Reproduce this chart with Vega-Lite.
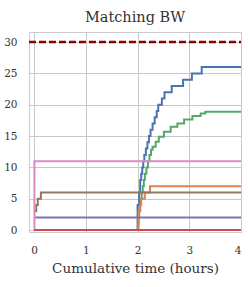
{
  "$schema": "https://vega.github.io/schema/vega-lite/v6.json",
  "width": 212,
  "height": 200,
  "autosize": "none",
  "padding": {"left": 29, "top": 32, "right": 7, "bottom": 55},
  "background": "white",
  "config": {
    "font": "DejaVu Serif",
    "view": {"stroke": "#cccccc", "strokeWidth": 1},
    "axis": {
      "grid": true,
      "gridColor": "#c8c8c8",
      "gridOpacity": 1,
      "gridWidth": 1,
      "domain": false,
      "tickSize": 0,
      "labelFont": "DejaVu Serif",
      "labelFontSize": 10.5,
      "labelColor": "#333333",
      "labelOverlap": false,
      "titleFont": "DejaVu Serif",
      "titleFontSize": 13.5,
      "titleFontWeight": "normal",
      "titleColor": "#333333"
    },
    "title": {"font": "DejaVu Serif", "fontSize": 14.5, "fontWeight": "normal", "color": "#333333", "offset": 7}
  },
  "title": "Matching BW",
  "datasets": {
    "series": [
      {"s": "blue", "t": 2.0, "v": 0},
      {"s": "blue", "t": 2.0, "v": 4},
      {"s": "blue", "t": 2.03, "v": 6},
      {"s": "blue", "t": 2.05, "v": 8},
      {"s": "blue", "t": 2.07, "v": 9},
      {"s": "blue", "t": 2.09, "v": 10},
      {"s": "blue", "t": 2.11, "v": 11},
      {"s": "blue", "t": 2.13, "v": 12},
      {"s": "blue", "t": 2.16, "v": 13},
      {"s": "blue", "t": 2.19, "v": 14},
      {"s": "blue", "t": 2.22, "v": 15},
      {"s": "blue", "t": 2.25, "v": 16},
      {"s": "blue", "t": 2.29, "v": 17},
      {"s": "blue", "t": 2.33, "v": 18},
      {"s": "blue", "t": 2.37, "v": 19},
      {"s": "blue", "t": 2.40, "v": 20},
      {"s": "blue", "t": 2.47, "v": 21},
      {"s": "blue", "t": 2.52, "v": 22},
      {"s": "blue", "t": 2.66, "v": 23},
      {"s": "blue", "t": 2.88, "v": 24},
      {"s": "blue", "t": 3.05, "v": 25},
      {"s": "blue", "t": 3.24, "v": 26},
      {"s": "blue", "t": 4.0, "v": 26},
      {"s": "green", "t": 2.0, "v": 0},
      {"s": "green", "t": 2.01, "v": 1},
      {"s": "green", "t": 2.02, "v": 2},
      {"s": "green", "t": 2.03, "v": 3},
      {"s": "green", "t": 2.05, "v": 4},
      {"s": "green", "t": 2.06, "v": 5},
      {"s": "green", "t": 2.08, "v": 6},
      {"s": "green", "t": 2.10, "v": 7},
      {"s": "green", "t": 2.12, "v": 8},
      {"s": "green", "t": 2.14, "v": 9},
      {"s": "green", "t": 2.17, "v": 10},
      {"s": "green", "t": 2.20, "v": 11},
      {"s": "green", "t": 2.23, "v": 12},
      {"s": "green", "t": 2.26, "v": 12.8},
      {"s": "green", "t": 2.29, "v": 13.3},
      {"s": "green", "t": 2.35, "v": 14.1},
      {"s": "green", "t": 2.41, "v": 14.9},
      {"s": "green", "t": 2.51, "v": 15.7},
      {"s": "green", "t": 2.64, "v": 16.5},
      {"s": "green", "t": 2.77, "v": 17.0},
      {"s": "green", "t": 2.90, "v": 17.65},
      {"s": "green", "t": 3.06, "v": 18.2},
      {"s": "green", "t": 3.22, "v": 18.6},
      {"s": "green", "t": 3.31, "v": 18.87},
      {"s": "green", "t": 4.0, "v": 18.87},
      {"s": "orange", "t": 0.0, "v": 0},
      {"s": "orange", "t": 2.02, "v": 3},
      {"s": "orange", "t": 2.05, "v": 4},
      {"s": "orange", "t": 2.07, "v": 5},
      {"s": "orange", "t": 2.14, "v": 6},
      {"s": "orange", "t": 2.24, "v": 7},
      {"s": "orange", "t": 4.0, "v": 7},
      {"s": "brown", "t": 0.0, "v": 3},
      {"s": "brown", "t": 0.04, "v": 4},
      {"s": "brown", "t": 0.07, "v": 5},
      {"s": "brown", "t": 0.13, "v": 6},
      {"s": "brown", "t": 4.0, "v": 6},
      {"s": "purple", "t": 0.0, "v": 2},
      {"s": "purple", "t": 4.0, "v": 2},
      {"s": "pink", "t": 0.0, "v": 0},
      {"s": "pink", "t": 0.005, "v": 11},
      {"s": "pink", "t": 4.0, "v": 11},
      {"s": "red", "t": 0.0, "v": 0},
      {"s": "red", "t": 4.0, "v": 0}
    ],
    "limit": [
      {"t": -0.1, "v": 30},
      {"t": 4.0, "v": 30}
    ]
  },
  "encoding": {
    "x": {
      "field": "t", "type": "quantitative",
      "scale": {"domain": [-0.1, 4], "nice": false, "zero": false},
      "axis": {"values": [0, 1, 2, 3, 4], "grid": true, "title": "Cumulative time (hours)", "labelPadding": 13, "titlePadding": 6, "format": "d"}
    },
    "y": {
      "field": "v", "type": "quantitative",
      "scale": {"domain": [-0.3, 31.6], "nice": false, "zero": false},
      "axis": {"values": [0, 5, 10, 15, 20, 25, 30], "grid": true, "title": null, "labelPadding": 12, "format": "d"}
    }
  },
  "layer": [
    {
      "data": {"name": "series"},
      "mark": {"type": "line", "interpolate": "step-after", "strokeWidth": 2, "clip": true},
      "encoding": {
        "color": {
          "field": "s", "type": "nominal",
          "scale": {
            "domain": ["blue", "green", "orange", "brown", "purple", "pink", "red"],
            "range": ["#4c72b0", "#55a868", "#dd8452", "#937860", "#8172b3", "#da8bc3", "#c44e52"]
          },
          "legend": null
        }
      }
    },
    {
      "data": {"name": "limit"},
      "mark": {"type": "line", "color": "#8b0000", "strokeWidth": 2.5, "strokeDash": [7, 3], "clip": true},
      "encoding": {}
    }
  ]
}
